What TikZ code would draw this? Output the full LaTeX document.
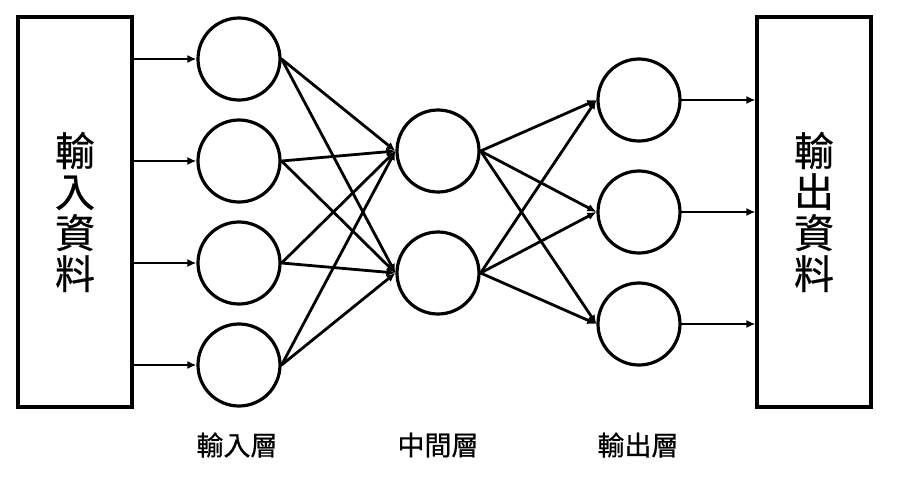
\documentclass[tikz,border=0pt]{standalone}
\usepackage{fontspec}
\newfontfamily\cjk{Noto Sans CJK TC}[FakeBold=0.6]
\usepackage{tikz}
\usetikzlibrary{arrows.meta}

\begin{document}
\begin{tikzpicture}[x=1pt, y=-1pt, every path/.style={line cap=round}]

        \tikzset{vertex/.style = {shape=circle,draw,line width=3.2pt,minimum size=82pt,inner sep=0pt}}
        \tikzset{databox/.style = {shape=rectangle,draw,line width=3.2pt,minimum width=114pt,minimum height=390pt,
                 align=center,font=\cjk\fontsize{40}{41}\selectfont}}
        \tikzset{edge/.style = {line width=2.8pt,-{Latex[length=9pt,width=8pt]}}}
        \tikzset{layer/.style = {font=\cjk\fontsize{27}{30}\selectfont}}

        \useasboundingbox (0,0) rectangle (898,496);

        \node[databox] (inbox) at (75,212) {輸\\入\\資\\料};
        \node[databox] (outbox) at (814,212) {輸\\出\\資\\料};

        \node[vertex] (in1) at (239,59) {};
        \node[vertex] (in2) at (239,161) {};
        \node[vertex] (in3) at (239,263) {};
        \node[vertex] (in4) at (239,365) {};

        \node[vertex] (mid1) at (438,151) {};
        \node[vertex] (mid2) at (438,273) {};

        \node[vertex] (out1) at (639,100) {};
        \node[vertex] (out2) at (639,212) {};
        \node[vertex] (out3) at (639,324) {};

        \node[layer] (inlabel) at (237,445) {輸入層};
        \node[layer] (midlabel) at (438,445) {中間層};
        \node[layer] (outlabel) at (638,445) {輸出層};

        \draw[edge] (inbox.east |- in1) -- (in1);
        \draw[edge] (inbox.east |- in2) -- (in2);
        \draw[edge] (inbox.east |- in3) -- (in3);
        \draw[edge] (inbox.east |- in4) -- (in4);

        \draw[edge] (in1.east) -- (mid1.west);
        \draw[edge] (in1.east) -- (mid2.west);
        \draw[edge] (in2.east) -- (mid1.west);
        \draw[edge] (in2.east) -- (mid2.west);
        \draw[edge] (in3.east) -- (mid1.west);
        \draw[edge] (in3.east) -- (mid2.west);
        \draw[edge] (in4.east) -- (mid1.west);
        \draw[edge] (in4.east) -- (mid2.west);

        \draw[edge] (mid1.east) -- (out1.west);
        \draw[edge] (mid1.east) -- (out2.west);
        \draw[edge] (mid1.east) -- (out3.west);
        \draw[edge] (mid2.east) -- (out1.west);
        \draw[edge] (mid2.east) -- (out2.west);
        \draw[edge] (mid2.east) -- (out3.west);

        \draw[edge] (out1) -- (outbox.west |- out1);
        \draw[edge] (out2) -- (outbox.west |- out2);
        \draw[edge] (out3) -- (outbox.west |- out3);

\end{tikzpicture}
\end{document}
